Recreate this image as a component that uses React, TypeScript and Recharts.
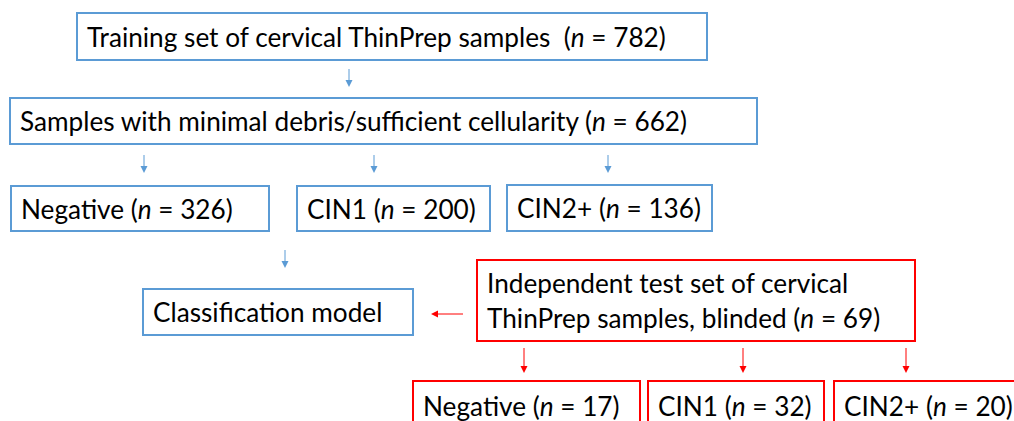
import React from "react";
import { ComposedChart, XAxis, YAxis, ReferenceArea, ReferenceLine, Scatter } from "recharts";

// flowchart nodes: text before the italic n, the count (null = no count), and second line if any
const nodeText = [
  "Training set of cervical ThinPrep samples  (",
  "Samples with minimal debris/sufficient cellularity (",
  "Negative (",
  "CIN1 (",
  "CIN2+ (",
  "Classification model",
  "Independent test set of cervical|ThinPrep samples, blinded (",
  "Negative (",
  "CIN1 (",
  "CIN2+ (",
];
const nodeCount: (number | null)[] = [782, 662, 326, 200, 136, null, 69, 17, 32, 20];
const nodeGroup = ["train", "train", "train", "train", "train", "train", "test", "test", "test", "test"];

// node extents in diagram units
const nodeX0 = [77, 10, 11, 297, 507, 143, 477, 413, 648, 834];
const nodeX1 = [707, 757, 269, 490, 712, 413, 915, 640, 824, 1030];
const nodeY0 = [13, 98, 186, 186, 185, 289, 260, 381, 381, 381];
const nodeY1 = [60, 144, 231, 231, 231, 335, 341, 430, 430, 430];

// arrows: start and end points
const arrowFromX = [349, 144, 374, 608, 285, 463, 524, 743, 906];
const arrowFromY = [69, 155, 155, 155, 250, 314, 348, 348, 348];
const arrowToX = [349, 144, 374, 608, 285, 431, 524, 743, 906];
const arrowToY = [87, 173, 173, 173, 268, 314, 373, 373, 373];
const arrowGroup = ["train", "train", "train", "train", "train", "test", "test", "test", "test"];

const COLORS: Record<string, string> = { train: "#5B9BD5", test: "#FF0000" };
const FONT = "Lato, 'Open Sans', sans-serif";
const FONT_SIZE = 26.2;

const centers = nodeX0.map((x, i) => ({ x: (x + nodeX1[i]) / 2, y: (nodeY0[i] + nodeY1[i]) / 2 }));

const NodeBox = (props: any) => {
  const { x, y, width, height, idx } = props;
  const lines = nodeText[idx].split("|");
  const count = nodeCount[idx];
  const lineGap = 35;
  const mid = y + height / 2 + 10;
  const firstBase = mid - ((lines.length - 1) * lineGap) / 2;
  return (
    <g>
      <rect x={x} y={y} width={width} height={height} fill="#fff" stroke={COLORS[nodeGroup[idx]]} strokeWidth={2} />
      {lines.map((ln, li) => {
        const last = li === lines.length - 1;
        return (
          <text
            key={li}
            x={x + 10}
            y={firstBase + li * lineGap}
            fontFamily={FONT}
            fontSize={FONT_SIZE}
            fill="#000"
            style={{ whiteSpace: "pre" }}
          >
            <tspan>{ln}</tspan>
            {last && count !== null && (
              <>
                <tspan fontStyle="italic">n</tspan>
                <tspan>{` = ${count})`}</tspan>
              </>
            )}
          </text>
        );
      })}
    </g>
  );
};

const Arrow = (props: any) => {
  const { x1, y1, x2, y2, color } = props;
  const dx = x2 - x1;
  const dy = y2 - y1;
  const len = Math.sqrt(dx * dx + dy * dy) || 1;
  const ux = dx / len;
  const uy = dy / len;
  const head = 7;
  const half = 3.5;
  const bx = x2 - ux * head;
  const by = y2 - uy * head;
  const pts = `${x2},${y2} ${bx - uy * half},${by + ux * half} ${bx + uy * half},${by - ux * half}`;
  return (
    <g>
      <line x1={x1} y1={y1} x2={bx} y2={by} stroke={color} strokeWidth={1} />
      <polygon points={pts} fill={color} />
    </g>
  );
};

export default function App() {
  return (
    <div style={{ position: "absolute", left: 0, top: 0, background: "#fff" }}>
      <ComposedChart width={1014} height={421} margin={{ top: 0, right: 0, bottom: 0, left: 0 }} data={centers}>
        <XAxis type="number" dataKey="x" domain={[0, 1014]} hide allowDataOverflow />
        <YAxis type="number" dataKey="y" domain={[0, 421]} reversed hide width={0} allowDataOverflow />
        <Scatter data={centers} isAnimationActive={false} shape={() => <g />} />
        {arrowFromX.map((fx, i) => (
          <ReferenceLine
            key={`a${i}`}
            segment={[
              { x: fx, y: arrowFromY[i] },
              { x: arrowToX[i], y: arrowToY[i] },
            ]}
            ifOverflow="visible"
            shape={(p: any) => <Arrow {...p} color={COLORS[arrowGroup[i]]} />}
          />
        ))}
        {nodeX0.map((x0, i) => (
          <ReferenceArea
            key={`n${i}`}
            x1={x0}
            x2={nodeX1[i]}
            y1={nodeY0[i]}
            y2={nodeY1[i]}
            ifOverflow="visible"
            shape={(p: any) => <NodeBox {...p} idx={i} />}
          />
        ))}
      </ComposedChart>
    </div>
  );
}
